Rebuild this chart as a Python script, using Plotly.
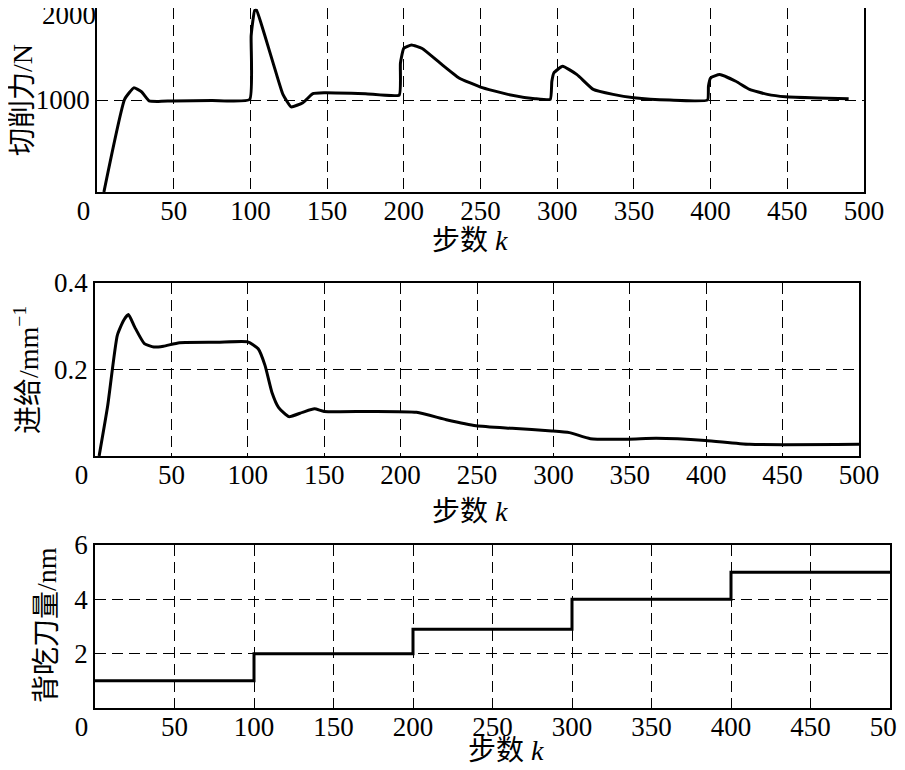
import plotly.graph_objects as go

# ---- data ----
force_k = [4.5, 18, 24, 29, 34, 40, 50, 75, 99.5, 100.5, 102.8, 104, 109.3, 115.8, 121.2, 126.6, 134.2, 140.7, 148,
           175, 197, 197.8, 200, 205, 212, 223.7, 236, 250, 267.8, 285.5, 295.5, 296.5, 297.8, 303.5, 312.9, 323.5,
           336.4, 350, 373.5, 398, 398.6, 400, 405.9, 416.4, 425.4, 437, 448.8, 470, 490]
force_N = [0, 1007, 1132, 1090, 990, 985, 990, 995, 1005, 1700, 1975, 1975, 1706, 1347, 1061, 925, 971, 1068, 1078,
           1068, 1054, 1400, 1562, 1599, 1560, 1401, 1240, 1140, 1061, 1014, 1007, 1200, 1294, 1366, 1276, 1115,
           1061, 1025, 1000, 1000, 1150, 1240, 1276, 1204, 1115, 1061, 1035, 1022, 1014]

feed_k = [2.7, 8.3, 14.6, 18.8, 21.9, 26, 32.3, 38.5, 44.8, 55.3, 80, 100, 106.8, 111.3, 115.8, 120.2, 126.9, 135.8,
          143.6, 150, 180, 210.4, 229.9, 249.4, 273, 299, 310.5, 324.2, 349.3, 367.3, 399.5, 428.4, 500]
feed_mm = [0, 0.116, 0.279, 0.314, 0.327, 0.298, 0.26, 0.252, 0.254, 0.262, 0.263, 0.264, 0.248, 0.209, 0.147,
           0.112, 0.091, 0.101, 0.109, 0.103, 0.103, 0.101, 0.084, 0.07, 0.064, 0.058, 0.054, 0.04, 0.039, 0.041,
           0.036, 0.027, 0.027]

depth_k = [0, 100, 200, 300, 400, 500]
depth_nm = [1, 2, 2.9, 4, 5, 5]

x_ticks = [0, 50, 100, 150, 200, 250, 300, 350, 400, 450, 500]
x_labels = ["0\u2002\u2002", "50", "100", "150", "200", "250", "300", "350", "400", "450", "500"]
force_ticks = [1000, 2000]
force_labels = ["1000", ""]
force_top_label = ["2000"]
feed_ticks = [0.2, 0.4]
depth_ticks = [2, 4, 6]

FONT = "Liberation Serif, Times New Roman, Noto Sans CJK SC, serif"
OFF = 8            # page body margin
W, H = 905 - OFF, 770 - OFF

fig = go.Figure()
line = dict(color="black", width=3)
fig.add_trace(go.Scatter(x=force_k, y=force_N, mode="lines", line=dict(line, shape="spline", smoothing=0.4),
                         xaxis="x", yaxis="y", showlegend=False))
fig.add_trace(go.Scatter(x=feed_k, y=feed_mm, mode="lines", line=dict(line, shape="spline", smoothing=0.5),
                         xaxis="x2", yaxis="y2", showlegend=False))
fig.add_trace(go.Scatter(x=depth_k, y=depth_nm, mode="lines", line=dict(line, shape="hv"),
                         xaxis="x3", yaxis="y3", showlegend=False))
# invisible trace on overlay axis so its label is drawn
fig.add_trace(go.Scatter(x=[force_k[0]], y=[force_N[0]], mode="lines", line=dict(width=0),
                         xaxis="x", yaxis="y4", showlegend=False, hoverinfo="skip"))

tf = dict(family=FONT, size=27, color="black")
common = dict(ticks="", showgrid=True, gridcolor="black", griddash="11px,6px", gridwidth=1, showline=True,
              linecolor="black", linewidth=1.5, mirror=True, zeroline=False, automargin=False,
              ticklabeloverflow="allow", tickfont=tf)

def xax(dom, anchor):
    return dict(domain=dom, anchor=anchor, range=[0, 500], tickvals=x_ticks, ticktext=x_labels,
                ticklabelstandoff=-6, **common)

def yax(dom, anchor, rng, tv, tt=None):
    d = dict(domain=dom, anchor=anchor, range=rng, tickvals=tv, **common)
    if tt is not None:
        d["ticktext"] = tt
    return d

def px(v):
    return (v - OFF) / W
def py(v):
    return 1 - (v - OFF) / H

fig.update_layout(
    width=W, height=H, margin=dict(l=0, r=0, t=0, b=0),
    paper_bgcolor="white", plot_bgcolor="white",
    xaxis=xax([px(97), px(864)], "y"),
    yaxis=yax([py(192), py(8)], "x", [0, 2000], force_ticks, force_labels),
    yaxis4=dict(overlaying="y", anchor="x", range=[0, 2000], tickvals=[2000], ticktext=force_top_label,
                ticks="", showgrid=False, showline=False, zeroline=False, automargin=False,
                ticklabelshift=7, ticklabeloverflow="allow", tickfont=tf),
    xaxis2=xax([px(95), px(859)], "y2"),
    yaxis2=yax([py(456), py(283)], "x2", [0, 0.4], feed_ticks),
    xaxis3=xax([px(95), px(890)], "y3"),
    yaxis3=yax([py(708), py(545)], "x3", [0, 6], depth_ticks),
)

ann_font = dict(family=FONT, size=28, color="black")
titles = [
    ("步数 <i>k</i>", px(470), py(241), 0),
    ("步数 <i>k</i>", px(470), py(511), 0),
    ("步数 <i>k</i>", px(506), py(750), 0),
    ("切削力/N", px(23), py(100), -90),
    ("进给/mm<sup>−1</sup>", px(26), py(370), -90),
    ("背吃刀量/nm", px(46), py(625), -90),
]
for t, x, y, a in titles:
    fig.add_annotation(text=t, x=x, y=y, xref="paper", yref="paper", showarrow=False,
                       textangle=a, font=ann_font, xanchor="center", yanchor="middle")

fig.write_html("out.html")
